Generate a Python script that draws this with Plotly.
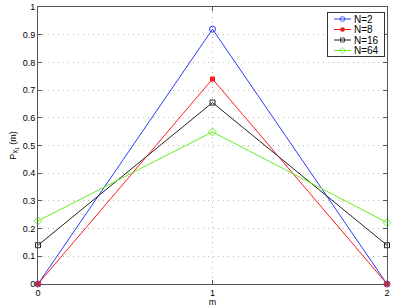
import plotly.graph_objects as go

m = [0, 1, 2]
n2 = [0.0, 0.92, 0.0]
n8 = [0.0, 0.74, 0.0]
n16 = [0.14, 0.655, 0.14]
n64 = [0.228, 0.549, 0.222]
xticks = [0, 1, 2]
yticks = [0, 0.1, 0.2, 0.3, 0.4, 0.5, 0.6, 0.7, 0.8, 0.9, 1]

fig = go.Figure()
specs = [
    ("N=2", n2, "#2a3cff", "circle-open", 6),
    ("N=8", n8, "#ff1a1a", "square", 4),
    ("N=16", n16, "#222222", "square-open", 5),
    ("N=64", n64, "#66ee22", "diamond-open", 6),
]
for name, ys, col, sym, sz in specs:
    fig.add_trace(go.Scatter(x=m, y=ys, mode="lines+markers", name=name, cliponaxis=False,
                             line=dict(color=col, width=1),
                             marker=dict(symbol=sym, size=sz, color=col, line=dict(color=col, width=1))))

fnt = dict(family="Liberation Sans, Arial, sans-serif", size=9, color="#000")
fig.update_layout(
    width=395, height=307,
    margin=dict(l=38, r=8, t=7, b=23, autoexpand=False),
    paper_bgcolor="white", plot_bgcolor="white",
    font=fnt,
    showlegend=True,
    legend=dict(x=0.992, y=0.985, xanchor="right", yanchor="top",
                bgcolor="white", bordercolor="#333", borderwidth=1,
                font=dict(family="Liberation Sans, Arial, sans-serif", size=10),
                tracegroupgap=0, itemwidth=30),
)
fig.update_xaxes(range=[0, 2], tickvals=xticks, ticktext=[str(v) for v in xticks],
                 showgrid=True, gridcolor="#b8b8b8", griddash="1px,4px", gridwidth=1,
                 showline=True, linecolor="#555", linewidth=1, mirror="ticks",
                 ticks="inside", ticklen=4, tickcolor="#555", zeroline=False,
                 automargin=False,
                 title=dict(text="m", standoff=0, font=fnt))
fig.update_yaxes(range=[0, 1], tickvals=yticks, ticktext=[("%g" % v) for v in yticks],
                 showgrid=True, gridcolor="#b8b8b8", griddash="1px,4px", gridwidth=1,
                 showline=True, linecolor="#555", linewidth=1, mirror="ticks",
                 ticks="inside", ticklen=4, tickcolor="#555", zeroline=False,
                 automargin=False,
                 title=dict(text="P<sub>X<sub>1</sub></sub> (m)", standoff=4, font=fnt))

post = """
document.body.style.margin='0';document.body.style.overflow='hidden';
var gd = document.getElementById('{plot_id}');
var lg = gd.querySelector('g.legend');
if (lg) {
  var items = lg.querySelectorAll('g.traces');
  var dy = 10.5;
  items.forEach(function(t, i) {
    t.setAttribute('transform', 'translate(0,' + (7 + i * dy) + ')');
    t.querySelectorAll('path.js-line').forEach(function(p){ p.setAttribute('d', 'M7,0h17'); });
    t.querySelectorAll('g.legendpoints path.scatterpts').forEach(function(p){ p.setAttribute('transform', 'translate(15.5,0) scale(0.8)'); });
    var tx = t.querySelector('text.legendtext');
    if (tx) { tx.setAttribute('x', '27'); tx.setAttribute('y', '3.5'); }
    var r = t.querySelector('rect.legendtoggle');
    if (r) { r.setAttribute('height', dy); r.setAttribute('y', -dy/2); r.setAttribute('width', 55); }
  });
  var bg = lg.querySelector('rect.bg');
  var h = 2 + items.length * dy;
  bg.setAttribute('width', 57); bg.setAttribute('height', h);
  var cp = gd.querySelectorAll('clipPath[id^="legend"] rect');
  cp.forEach(function(c){ c.setAttribute('width', 57); c.setAttribute('height', h); });
  lg.setAttribute('transform', 'translate(327,12)');
}
"""
fig.write_html("out.html", config={"displayModeBar": False}, post_script=post)
